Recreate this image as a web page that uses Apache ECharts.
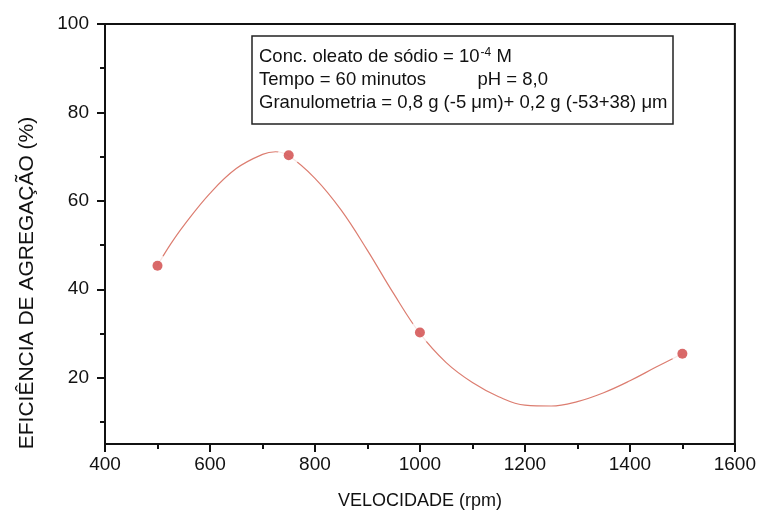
<!DOCTYPE html>
<html>
<head>
<meta charset="utf-8">
<script src="https://cdn.jsdelivr.net/npm/echarts@6/dist/echarts.min.js"></script>
<style>
  html, body { margin: 0; padding: 0; background: #fff; }
  #chart { width: 759px; height: 516px; }
</style>
</head>
<body>
<div id="chart"></div>
<script>
// pontos medidos
var velocidade = [500, 750, 1000, 1500];
var eficiencia = [45.3, 70.3, 30.2, 25.4];

// curva ajustada
var curvaX = [500, 525, 550, 600, 650, 700, 725, 750, 800, 850, 900, 950, 1000, 1050, 1100, 1150, 1200, 1250, 1300, 1350, 1400, 1450, 1500];
var curvaY = [45.4, 50.2, 54.4, 61.7, 67.3, 70.5, 71.1, 70.2, 65.1, 57.9, 48.8, 39.0, 30.0, 23.4, 18.9, 15.7, 13.8, 13.6, 14.6, 16.6, 19.3, 22.4, 25.4];

var xTicks = [400, 600, 800, 1000, 1200, 1400, 1600];
var yLabels = [20, 40, 60, 80, 100];
var yMinor = [10, 30, 50, 70, 90];

var fonte = '"Liberation Sans", Arial, sans-serif';

var pontos = velocidade.map(function (v, i) { return [v, eficiencia[i]]; });
var curva = curvaX.map(function (v, i) { return [v, curvaY[i]]; });

var myChart = echarts.init(document.getElementById('chart'));
var option = {
    backgroundColor: '#fff',
    animation: false,
    grid: {
        left: 105, right: 24, top: 24, bottom: 72,
        show: true,
        borderColor: '#111',
        borderWidth: 2
    },
    xAxis: {
        type: 'value',
        min: xTicks[0],
        max: xTicks[xTicks.length - 1],
        interval: 200,
        axisLine: { show: true, lineStyle: { color: '#111', width: 2 } },
        axisTick: { show: true, length: 8, lineStyle: { color: '#111', width: 2 } },
        minorTick: { show: true, splitNumber: 2, length: 5, lineStyle: { color: '#111', width: 2 } },
        splitLine: { show: false },
        axisLabel: {
            fontFamily: fonte, fontSize: 19, color: '#111', margin: 11,
            formatter: function (v) { return String(v); }
        },
        name: 'VELOCIDADE (rpm)',
        nameLocation: 'middle',
        nameGap: 48,
        nameTextStyle: { fontFamily: fonte, fontSize: 18, color: '#111' }
    },
    yAxis: [{
        type: 'value',
        min: 5,
        max: 100,
        axisLine: { show: true, lineStyle: { color: '#111', width: 2 } },
        axisTick: { show: true, length: 8, customValues: yLabels, lineStyle: { color: '#111', width: 2 } },
        splitLine: { show: false },
        axisLabel: { customValues: yLabels, fontFamily: fonte, fontSize: 19, color: '#111', margin: 16 }
    }, {
        type: 'value',
        min: 5,
        max: 100,
        position: 'left',
        axisLine: { show: false },
        axisTick: { show: true, length: 5, customValues: yMinor, lineStyle: { color: '#111', width: 2 } },
        splitLine: { show: false },
        axisLabel: { show: false }
    }],
    graphic: [{
        type: 'text',
        x: 27, y: 283,
        rotation: Math.PI / 2,
        style: {
            text: 'EFICIÊNCIA DE AGREGAÇÃO (%)',
            fontFamily: fonte, fontSize: 21, fill: '#111',
            align: 'center', verticalAlign: 'middle'
        }
    }, {
        type: 'rect',
        shape: { x: 252, y: 36, width: 421, height: 88 },
        style: { fill: '#fff', stroke: '#222', lineWidth: 1.5 },
        z: 10
    }, {
        type: 'text',
        x: 259, y: 57,
        z: 11,
        style: {
            text: 'Conc. oleato de sódio = 10{sup|-4} M',
            fontFamily: fonte, fontSize: 18.5, fill: '#111',
            verticalAlign: 'middle',
            rich: { sup: { fontFamily: fonte, fontSize: 12, fill: '#111', padding: [0, 0, 9, 1] } }
        }
    }, {
        type: 'text',
        x: 259, y: 80,
        z: 11,
        style: {
            text: 'Tempo = 60 minutos          pH = 8,0',
            fontFamily: fonte, fontSize: 18.5, fill: '#111',
            verticalAlign: 'middle'
        }
    }, {
        type: 'text',
        x: 259, y: 103,
        z: 11,
        style: {
            text: 'Granulometria = 0,8 g (-5 μm)+ 0,2 g (-53+38) μm',
            fontFamily: fonte, fontSize: 18.5, fill: '#111',
            verticalAlign: 'middle'
        }
    }],
    series: [{
        name: 'curva',
        type: 'line',
        data: curva,
        smooth: 0.4,
        showSymbol: false,
        symbol: 'none',
        lineStyle: { color: '#dc7d70', width: 1.2 },
        z: 2
    }, {
        // halo branco em volta dos pontos
        name: 'halo',
        type: 'scatter',
        data: pontos,
        symbolSize: 22,
        itemStyle: { color: '#fff' },
        z: 3
    }, {
        name: 'pontos',
        type: 'scatter',
        data: pontos,
        symbolSize: 10,
        itemStyle: { color: '#cf4343' },
        z: 4
    }]
};
myChart.setOption(option);
window.addEventListener('resize', function () { myChart.resize(); });
</script>
</body>
</html>
